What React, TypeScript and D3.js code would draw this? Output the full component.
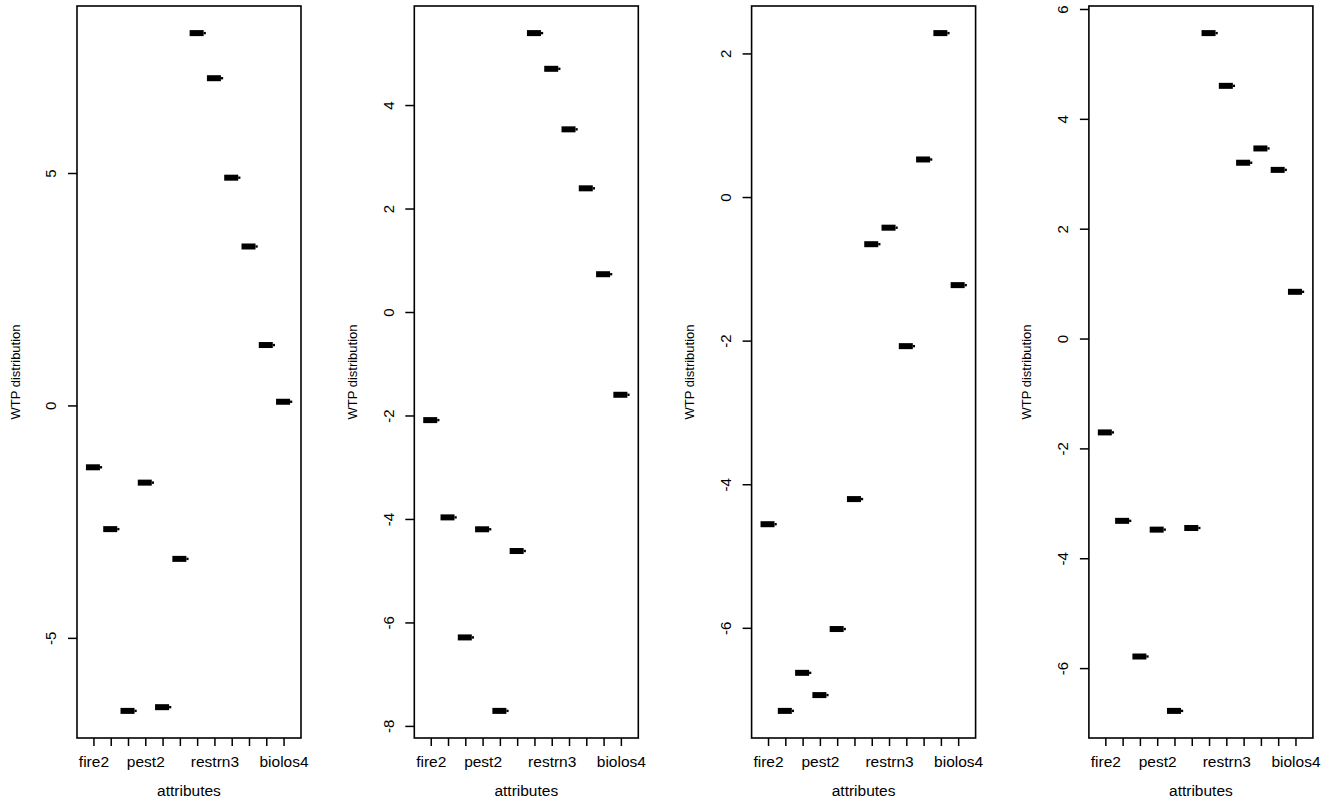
import * as d3 from 'd3';

// attribute levels on the x axis (only some labels fit, as in R)
const categories = [
  'fire2', 'fire3', 'fire4',
  'pest2', 'pest3', 'pest4',
  'restrn2', 'restrn3', 'restrn4',
  'biolos2', 'biolos3', 'biolos4',
];
const shownLabels = ['fire2', 'pest2', 'restrn3', 'biolos4'];

// WTP medians per panel
const wtp1 = [-1.32, -2.65, -6.56, -1.65, -6.48, -3.29, 8.02, 7.05, 4.91, 3.43, 1.31, 0.09];
const wtp2 = [-2.08, -3.96, -6.28, -4.19, -7.7, -4.61, 5.4, 4.71, 3.54, 2.4, 0.74, -1.59];
const wtp3 = [-4.55, -7.15, -6.62, -6.93, -6.01, -4.2, -0.65, -0.42, -2.07, 0.53, 2.29, -1.22];
const wtp4 = [-1.7, -3.31, -5.78, -3.47, -6.77, -3.44, 5.57, 4.61, 3.21, 3.47, 3.08, 0.86];

const ticks1 = [-5, 0, 5];
const ticks2 = [-8, -6, -4, -2, 0, 2, 4];
const ticks3 = [-6, -4, -2, 0, 2];
const ticks4 = [-6, -4, -2, 0, 2, 4, 6];

const panels = [
  { values: wtp1, ticks: ticks1 },
  { values: wtp2, ticks: ticks2 },
  { values: wtp3, ticks: ticks3 },
  { values: wtp4, ticks: ticks4 },
];

const W = 1325;
const H = 803;
const font = '"Liberation Sans", Arial, Helvetica, sans-serif';

// R style axis range: extend the data range by 4% on each side
const rPad = (lo: number, hi: number): [number, number] => {
  const d = (hi - lo) * 0.04;
  return [lo - d, hi + d];
};

const Panel = ({ values, ticks, left }: { values: number[]; ticks: number[]; left: number }) => {
  const top = 6;
  const bottom = 738;
  const right = left + 224;

  const x = d3
    .scaleLinear()
    .domain(rPad(0.5, categories.length + 0.5))
    .range([left, right]);
  const ext = d3.extent(values) as [number, number];
  const y = d3.scaleLinear().domain(rPad(ext[0], ext[1])).range([bottom, top]);

  return (
    <g>
      <rect x={left} y={top} width={right - left} height={bottom - top} fill="none" stroke="#000" strokeWidth={1.6} />

      {/* y axis */}
      {ticks.map((t) => (
        <g key={t}>
          <line x1={left - 9} x2={left} y1={y(t)} y2={y(t)} stroke="#000" strokeWidth={1.5} />
          <text
            x={left - 26}
            y={y(t)}
            transform={`rotate(-90, ${left - 26}, ${y(t)})`}
            textAnchor="middle"
            dominantBaseline="central"
            fontSize={15}
            fill="#000"
          >
            {t}
          </text>
        </g>
      ))}
      <text
        x={left - 62}
        y={(top + bottom) / 2}
        transform={`rotate(-90, ${left - 62}, ${(top + bottom) / 2})`}
        textAnchor="middle"
        dominantBaseline="central"
        fontSize={13}
        fill="#000"
      >
        WTP distribution
      </text>

      {/* x axis */}
      {categories.map((c, i) => (
        <g key={c}>
          <line x1={x(i + 1)} x2={x(i + 1)} y1={bottom} y2={bottom + 8} stroke="#000" strokeWidth={1.5} />
          {shownLabels.includes(c) && (
            <text x={x(i + 1)} y={767} textAnchor="middle" fontSize={15.5} fill="#000">
              {c}
            </text>
          )}
        </g>
      ))}
      <text x={(left + right) / 2} y={796} textAnchor="middle" fontSize={15.5} fill="#000">
        attributes
      </text>

      {/* degenerate boxplots: just the thick median bar */}
      {values.map((v, i) => {
        const cx = x(i + 1);
        const cy = y(v);
        return (
          <g key={i}>
            <rect x={cx - 8} y={cy - 3} width={14} height={6} fill="#000" />
            <rect x={cx + 6} y={cy - 1.2} width={2.2} height={2.4} fill="#000" />
          </g>
        );
      })}
    </g>
  );
};

export default function App() {
  return (
    <svg
      width={W}
      height={H}
      style={{ position: 'absolute', left: 0, top: 0, background: '#fff', fontFamily: font }}
    >
      <rect width={W} height={H} fill="#fff" />
      {panels.map((p, i) => (
        <Panel key={i} values={p.values} ticks={p.ticks} left={77 + i * 337.3} />
      ))}
    </svg>
  );
}
